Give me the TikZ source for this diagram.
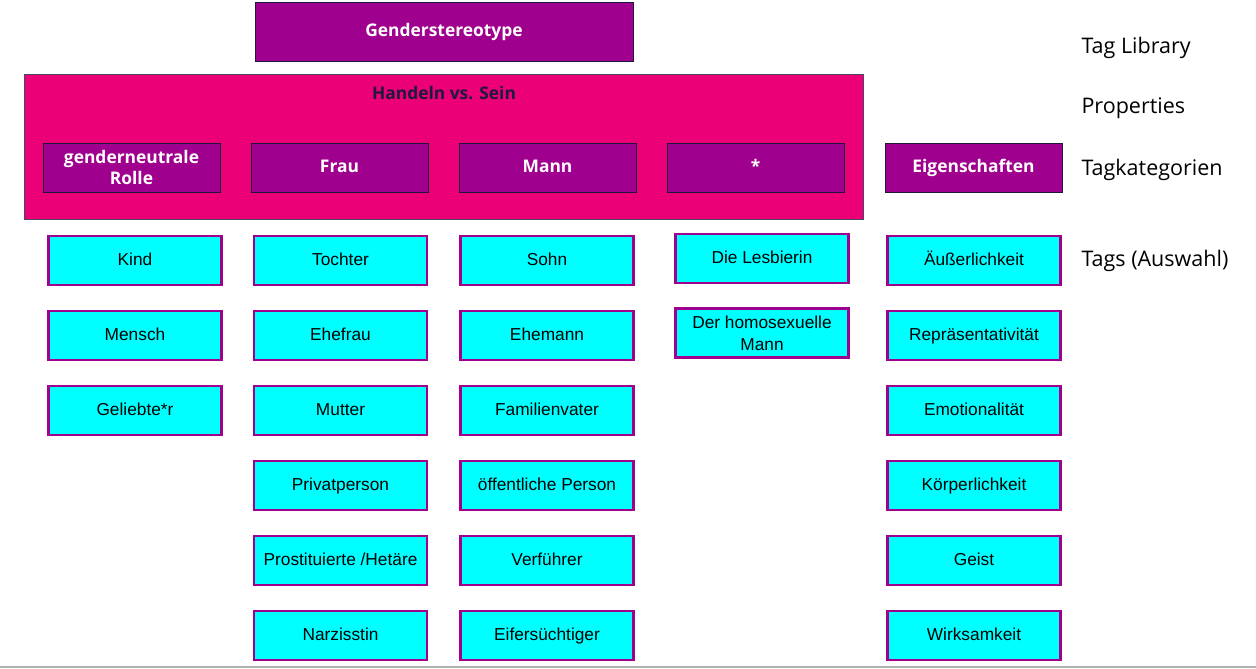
\documentclass[tikz,border=0pt]{standalone}
\usepackage{fontspec}
\setmainfont{Liberation Sans}
\newfontfamily\opensans{Open Sans}
\usepackage{tikz}
\definecolor{lila}{HTML}{A0008E}
\definecolor{pink}{HTML}{EB0077}
\definecolor{tuerkis}{HTML}{00FFFF}
\definecolor{nachtblau}{HTML}{1E1A3C}
\tikzset{
  kasten/.style={rectangle,inner sep=0pt,align=center,text height=1.02em,text depth=0pt},
  zweizeilig/.style={text height=,text depth=},
  kategorie/.style={kasten,fill=lila,draw=nachtblau,line width=.8pt,
    minimum width=177pt,minimum height=49pt,text=white,
    font=\opensans\bfseries\fontsize{17.4}{21}\selectfont},
  tag/.style={kasten,fill=tuerkis,draw=lila,line width=2.2pt,
    minimum width=173pt,minimum height=49pt,
    font=\fontsize{17.3}{22}\selectfont},
  ebene/.style={anchor=west,font=\opensans\fontsize{21.5}{24}\selectfont}
}

\begin{document}
\begin{tikzpicture}[x=1pt,y=-1pt]
    \useasboundingbox (0,0) rectangle (1256,669);
    % Tag Library und Properties
    \node[kategorie,minimum width=378pt,minimum height=59pt] (gs) at (444,31.5) {Genderstereotype};
    \node[rectangle,fill=pink,draw=nachtblau!80,line width=.8pt,minimum width=839pt,minimum height=145pt] (hvs) at (443.5,146.5) {};
    \node[kasten,font=\opensans\bfseries\fontsize{17.4}{21}\selectfont,text=nachtblau] (hvstitel) at (444,94) {Handeln vs. Sein};
    % Tagkategorien
    \node[kategorie,zweizeilig] (neutral) at (131.5,167.5) {genderneutrale\\Rolle};
    \node[kategorie] (frau) at (339.5,167.5) {Frau};
    \node[kategorie] (mann) at (547.5,167.5) {Mann};
    \node[kategorie] (stern) at (755.5,167.5) {*};
    \node[kategorie] (eigen) at (973.5,167.5) {Eigenschaften};
    % Tags
    \foreach \txt [count=\i] in {Kind,Mensch,Geliebte*r}
      \node[tag] (neutral-\i) at (135,185.5+75*\i) {\txt};
    \foreach \txt [count=\i] in {Tochter,Ehefrau,Mutter,Privatperson,Prostituierte /Hetäre,Narzisstin}
      \node[tag] (frau-\i) at (340.5,185.5+75*\i) {\txt};
    \foreach \txt [count=\i] in {Sohn,Ehemann,Familienvater,öffentliche Person,Verführer,Eifersüchtiger}
      \node[tag] (mann-\i) at (547,185.5+75*\i) {\txt};
    \node[tag] (stern-1) at (762,258.5) {Die Lesbierin};
    \node[tag,zweizeilig] (stern-2) at (762,333) {Der homosexuelle\\Mann};
    \foreach \txt [count=\i] in {Äußerlichkeit,Repräsentativität,Emotionalität,Körperlichkeit,Geist,Wirksamkeit}
      \node[tag] (eigen-\i) at (974,185.5+75*\i) {\txt};
    % Ebenen
    \node[ebene] (taglib) at (1078,47.5) {Tag Library};
    \node[ebene] (props) at (1078,108.5) {Properties};
    \node[ebene] (kats) at (1078,169.5) {Tagkategorien};
    \node[ebene] (tags) at (1078,260.5) {Tags (Auswahl)};
    \draw[line width=2pt,black!30] (0,667) -- (1256,667);
\end{tikzpicture}
\end{document}
